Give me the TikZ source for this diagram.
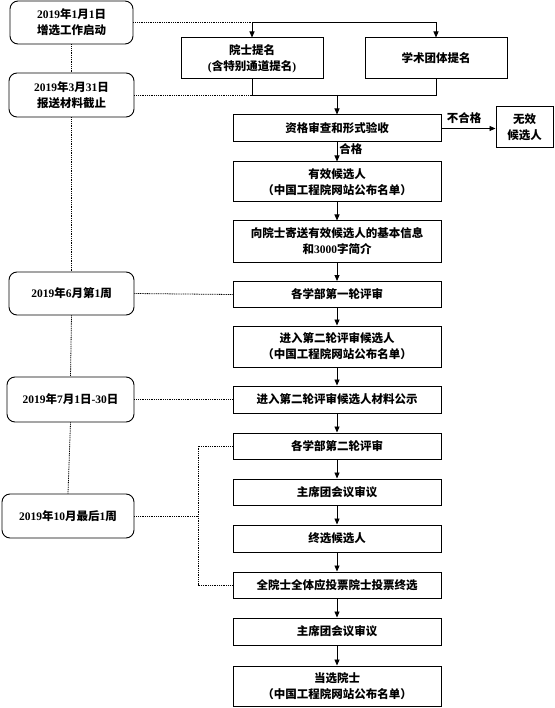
\documentclass[tikz,border=0pt]{standalone}
\usepackage{fontspec}
\setmainfont{Liberation Serif}
\newfontfamily\cjk{Noto Sans CJK SC}
\usetikzlibrary{arrows.meta}
\newcommand\latn[1]{{\rmfamily\bfseries #1}}
\begin{document}
\begin{tikzpicture}[x=1pt,y=-1pt,
  txt/.style={font=\cjk\bfseries\fontsize{11.5}{16}\selectfont, align=center, inner sep=0pt},
  flowbox/.style={txt, draw, line width=1pt, minimum width=208pt},
  timebox/.style={txt, draw, line width=0.9pt, rounded corners=8pt},
  arr/.style={line width=0.9pt, -{Triangle[length=6pt,width=5pt]}},
  solid line/.style={line width=0.9pt},
  dotline/.style={line width=0.8pt, dash pattern=on 1pt off 0.8pt}]
\useasboundingbox (0,0) rectangle (554,708);
% timeline boxes
\node[timebox, minimum width=123pt, minimum height=43pt] (t1) at (71.5,22.5) {\latn{2019}年\latn{1}月\latn{1}日\\增选工作启动};
\node[timebox, minimum width=125pt, minimum height=44pt] (t2) at (71.5,95) {\latn{2019}年\latn{3}月\latn{31}日\\报送材料截止};
\node[timebox, minimum width=125pt, minimum height=43pt] (t3) at (71.5,293.5) {\latn{2019}年\latn{6}月第\latn{1}周};
\node[timebox, minimum width=127pt, minimum height=45pt] (t4) at (70.5,399.5) {\latn{2019}年\latn{7}月\latn{1}日\latn{-30}日};
\node[timebox, minimum width=132pt, minimum height=44pt] (t5) at (68,516) {\latn{2019}年\latn{10}月最后\latn{1}周};
% flow boxes
\node[txt, draw, line width=1pt, minimum width=142pt, minimum height=41pt] (n1) at (252,58.5) {院士提名\\\latn{(}含特别通道提名\latn{)}};
\node[txt, draw, line width=1pt, minimum width=142pt, minimum height=41pt] (n2) at (436,58.5) {学术团体提名};
\node[flowbox, minimum height=27pt] (q) at (337,128.5) {资格审查和形式验收};
\node[txt, draw, line width=1pt, minimum width=57pt, minimum height=41pt] (inv) at (524.5,127.5) {无效\\候选人};
\node[flowbox, minimum height=40pt] (a1) at (337,182) {有效候选人\\（中国工程院网站公布名单）};
\node[flowbox, minimum height=41pt] (a2) at (337,241.5) {向院士寄送有效候选人的基本信息\\和\latn{3000}字简介};
\node[flowbox, minimum height=26pt] (a3) at (337,294.5) {各学部第一轮评审};
\node[flowbox, minimum height=41pt] (a4) at (337,346.5) {进入第二轮评审候选人\\（中国工程院网站公布名单）};
\node[flowbox, minimum height=27pt] (a5) at (337,399.5) {进入第二轮评审候选人材料公示};
\node[flowbox, minimum height=26pt] (a6) at (337,446) {各学部第二轮评审};
\node[flowbox, minimum height=26pt] (a7) at (337,492) {主席团会议审议};
\node[flowbox, minimum height=27pt] (a8) at (337,538.5) {终选候选人};
\node[flowbox, minimum height=26pt] (a9) at (337,585) {全院士全体应投票院士投票终选};
\node[flowbox, minimum height=27pt] (a10) at (337,631.5) {主席团会议审议};
\node[flowbox, minimum height=40pt] (a11) at (337,686) {当选院士\\（中国工程院网站公布名单）};
% timeline vertical dotted
\draw[dotline] (t1.south) -- (t2.north);
\draw[dotline] (t2.south) -- (t3.north);
\draw[dotline] (t3.south) -- (t4.north);
\draw[dotline] (t4.south) -- (t5.north);
% top connectors
\coordinate (j1) at (n1.north |- t1.east);
\coordinate (j2) at (n2.north |- t1.east);
\draw[dotline] (t1.east) -- (j1);
\draw[arr] (j1) -- (n1.north);
\draw[arr] (j1) -- (j2) -- (n2.north);
\coordinate (m1) at (n1.south |- t2.east);
\coordinate (m2) at (n2.south |- t2.east);
\coordinate (m) at (q.north |- t2.east);
\draw[solid line] (n1.south) -- (m1) -- (m2) -- (n2.south);
\draw[arr] (m) -- (q.north);
\draw[dotline] (t2.east) -- (m1);
\draw[arr] (q.east) -- (q.east -| inv.west) node[txt, pos=0.42, above=4pt] {不合格};
\draw[arr] (q.south) -- (a1.north) node[txt, pos=0.35, right=2pt] {合格};
% chain
\draw[arr] (a1) -- (a2);
\draw[arr] (a2) -- (a3);
\draw[arr] (a3) -- (a4);
\draw[arr] (a4) -- (a5);
\draw[arr] (a5) -- (a6);
\draw[arr] (a6) -- (a7);
\draw[arr] (a7) -- (a8);
\draw[arr] (a8) -- (a9);
\draw[arr] (a9) -- (a10);
\draw[arr] (a10) -- (a11);
% timeline to flow
\draw[dotline] (t3.east) -- (a3.west);
\draw[dotline] (t4.east) -- (a5.west);
\coordinate (bx) at (198,516);
\draw[dotline] (t5.east) -- (bx);
\draw[dotline] (a6.west) -| (bx) |- (a9.west);
\end{tikzpicture}
\end{document}
